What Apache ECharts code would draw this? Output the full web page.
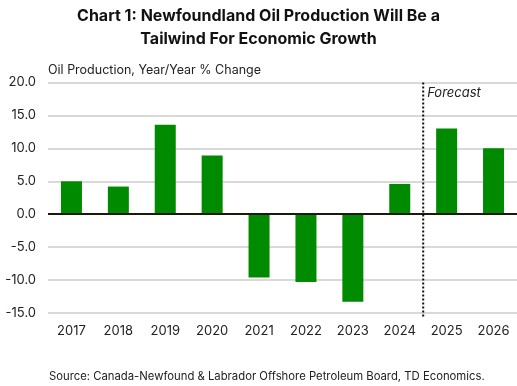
<!DOCTYPE html>
<html><head><meta charset="utf-8">
<script src="https://cdn.jsdelivr.net/npm/echarts@6/dist/echarts.min.js"></script>
<style>html,body{margin:0;padding:0;background:#fff}#c{width:517px;height:386px}</style>
</head><body><div id="c"></div>
<script>
const categories = ['2017','2018','2019','2020','2021','2022','2023','2024','2025','2026'];
const values = [5.0, 4.2, 13.6, 8.9, -9.6, -10.3, -13.3, 4.6, 13.0, 10.0];
const yTicks = {min: -15, max: 20, interval: 5};
const titleLines = 'Chart 1: Newfoundland Oil Production Will Be a\nTailwind For Economic Growth';
const yName = 'Oil Production, Year/Year % Change';
const sourceText = 'Source: Canada-Newfound & Labrador Offshore Petroleum Board, TD Economics.';
const forecastLabel = 'Forecast';
const forecastAfter = '2024';

const FONT = 'Inter, "DejaVu Sans", sans-serif';
const chart = echarts.init(document.getElementById('c'), null, {renderer:'canvas'});
const srcText = {type:'text',left:49,top:371,style:{text:sourceText,font:'11.3px '+FONT,fill:'#222'}};
chart.setOption({
  animation:false,
  title:{text:titleLines,left:'center',top:0,textStyle:{fontFamily:FONT,fontSize:16,fontWeight:'bold',color:'#111',lineHeight:23}},
  grid:{left:48,right:0,top:82.5,bottom:73},
  xAxis:{type:'category',data:categories,
    axisLine:{show:false},axisTick:{show:false},
    axisLabel:{fontFamily:FONT,fontSize:13,color:'#222',margin:12}},
  yAxis:{type:'value',min:yTicks.min,max:yTicks.max,interval:yTicks.interval,
    name:yName,nameLocation:'end',nameGap:6,
    nameTextStyle:{fontFamily:FONT,fontSize:12.5,color:'#222',align:'left',padding:[0,0,0,0]},
    axisLine:{show:false},axisTick:{show:false},
    axisLabel:{fontFamily:FONT,fontSize:13,color:'#222',margin:12,formatter:v=>v.toFixed(1)},
    splitLine:{lineStyle:{color:'#d9d9d9',width:2}}},
  series:[{type:'bar',data:values,barWidth:21,itemStyle:{color:'#008a00'},
    markLine:{silent:true,symbol:'none',label:{show:false},
      lineStyle:{color:'#1a1a0a',width:2,type:'solid'},data:[{yAxis:0}]}}],
  graphic:[srcText]
});
const x1 = chart.convertToPixel({xAxisIndex:0}, forecastAfter);
const x2 = chart.convertToPixel({xAxisIndex:0}, categories[categories.indexOf(forecastAfter)+1]);
const xm = (x1+x2)/2;
const yTop = chart.convertToPixel({yAxisIndex:0}, yTicks.max);
const yBot = chart.convertToPixel({yAxisIndex:0}, yTicks.min);
chart.setOption({graphic:[
  srcText,
  {type:'line',shape:{x1:xm,y1:yTop,x2:xm,y2:yBot+4},style:{stroke:'#111',lineWidth:2,lineDash:[2,2]},z:10},
  {type:'text',x:xm+4,y:yTop+4,style:{text:forecastLabel,font:'italic 13px '+FONT,fill:'#222'}}
]});
</script></body></html>
